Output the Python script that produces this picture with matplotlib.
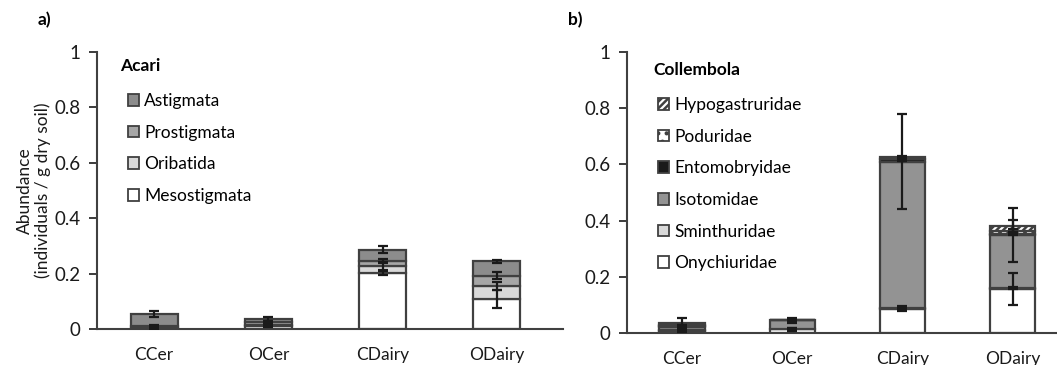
import numpy as np
import matplotlib.pyplot as plt
from matplotlib.patches import Patch

plt.rcParams['font.family'] = ['Lato', 'DejaVu Sans']
plt.rcParams['hatch.linewidth'] = 1.8

cats = ["CCer", "OCer", "CDairy", "ODairy"]

# ---- Acari (bottom to top) ----
acari_names = ["Mesostigmata", "Oribatida", "Prostigmata", "Astigmata"]
acari_vals = [
    [0.003, 0.012, 0.202, 0.109],   # Mesostigmata
    [0.002, 0.004, 0.024, 0.047],   # Oribatida
    [0.005, 0.008, 0.020, 0.036],   # Prostigmata
    [0.043, 0.012, 0.040, 0.052],   # Astigmata
]
acari_err = [
    [0.003, 0.004, 0.008, 0.032],
    [0.002, 0.003, 0.012, 0.015],
    [0.003, 0.004, 0.005, 0.012],
    [0.011, 0.006, 0.012, 0.005],
]
acari_col = ["white", "#d9d9d9", "#a6a6a6", "#8c8c8c"]

# ---- Collembola (bottom to top) ----
coll_names = ["Onychiuridae", "Sminthuridae", "Isotomidae", "Entomobryidae",
              "Poduridae", "Hypogastruridae"]
coll_vals = [
    [0.008, 0.013, 0.087, 0.157],   # Onychiuridae
    [0.002, 0.001, 0.003, 0.004],   # Sminthuridae
    [0.010, 0.031, 0.520, 0.188],   # Isotomidae
    [0.005, 0.001, 0.008, 0.003],   # Entomobryidae
    [0.002, 0.000, 0.002, 0.012],   # Poduridae
    [0.010, 0.000, 0.005, 0.017],   # Hypogastruridae
]
coll_err = [
    [0.004, 0.005, 0.010, 0.057],
    [0.002, 0.002, 0.003, 0.003],
    [0.006, 0.010, 0.170, 0.095],
    [0.003, 0.002, 0.005, 0.003],
    [0.002, 0.000, 0.003, 0.005],
    [0.015, 0.000, 0.005, 0.020],
]
coll_col = ["white", "#d9d9d9", "#939393", "#1a1a1a", "white", "white"]
coll_hatch = [None, None, None, None, "..", "/////"]

edge = "#404040"
fig = plt.figure(figsize=(10.57, 3.65), dpi=100)
axa = fig.add_axes([0.0918, 0.0986, 0.441, 0.759])
axb = fig.add_axes([0.593, 0.0877, 0.41, 0.770])


def stacked(ax, vals, errs, cols, hatches, names):
    x = np.arange(len(cats))
    bottom = np.zeros(len(cats))
    handles = []
    for i, v in enumerate(vals):
        v = np.array(v)
        h = hatches[i] if hatches else None
        ax.bar(x, v, 0.41, bottom=bottom, color=cols[i], edgecolor=edge,
               linewidth=1.6, hatch=h, zorder=2)
        top = bottom + v
        ax.errorbar(x, top, yerr=errs[i], fmt="none", ecolor="#1a1a1a",
                    elinewidth=1.6, capsize=3.5, capthick=1.6, zorder=3)
        handles.append(Patch(facecolor=cols[i], edgecolor=edge, linewidth=1.3,
                             hatch=h, label=names[i]))
        bottom = top
    ax.set_ylim(0, 1)
    ax.set_xticks(x)
    ax.set_xticklabels(cats)
    ax.set_yticks([0, 0.2, 0.4, 0.6, 0.8, 1])
    ax.set_yticklabels(["0", "0.2", "0.4", "0.6", "0.8", "1"])
    ax.tick_params(axis="x", length=0, pad=13, labelsize=12.5, colors="#1a1a1a")
    ax.tick_params(axis="y", length=6, width=1.2, pad=6, labelsize=13.5,
                   colors="#1a1a1a")
    for s in ["top", "right"]:
        ax.spines[s].set_visible(False)
    for s in ["left", "bottom"]:
        ax.spines[s].set_color(edge)
        ax.spines[s].set_linewidth(1.5)
    return handles[::-1]


ha = stacked(axa, acari_vals, acari_err, acari_col, None, acari_names)
axa.set_xlim(-0.5, 3.58)
hb = stacked(axb, coll_vals, coll_err, coll_col, coll_hatch, coll_names)
axb.set_xlim(-0.5, 3.43)

axa.set_ylabel("Abundance\n(individuals / g dry soil)", fontsize=12.5,
               color="#1a1a1a", labelpad=2, linespacing=1.15)

leg_kw = dict(loc="upper left", frameon=False, fontsize=12.5, handlelength=0.65,
              handleheight=0.65, handletextpad=0.3, labelspacing=0.9,
              borderaxespad=0, borderpad=0)
axa.legend(handles=ha, bbox_to_anchor=(0.121, 0.745),
           bbox_transform=fig.transFigure, **leg_kw)
axb.legend(handles=hb, bbox_to_anchor=(0.6225, 0.734),
           bbox_transform=fig.transFigure, **leg_kw)

fig.text(0.1135, 0.82, "Acari", fontsize=12.5, fontweight="bold", va="center")
fig.text(0.618, 0.808, "Collembola", fontsize=12.5, fontweight="bold", va="center")
fig.text(0.036, 0.945, "a)", fontsize=12.5, fontweight="bold", va="center")
fig.text(0.537, 0.945, "b)", fontsize=12.5, fontweight="bold", va="center")

fig.savefig("out.png", dpi=100)
